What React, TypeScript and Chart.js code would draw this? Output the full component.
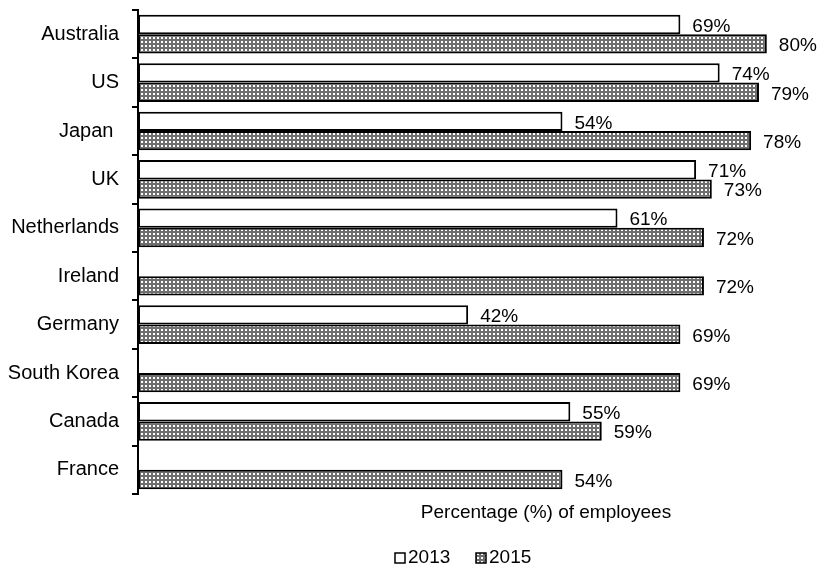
import React, { useEffect, useRef } from "react";
import { Chart, registerables } from "chart.js";

Chart.register(...registerables);

const categories = ["Australia", "US", "Japan ", "UK", "Netherlands", "Ireland", "Germany", "South Korea", "Canada", "France"];
const values2013: (number | null)[] = [69, 74, 54, 71, 61, null, 42, null, 55, null];
const values2015: number[] = [80, 79, 78, 73, 72, 72, 69, 69, 59, 54];
const seriesNames = ["2013", "2015"];
const axisTitle = "Percentage (%) of employees";

const FONT = "Arial, 'Liberation Sans', sans-serif";

function makePattern(): CanvasPattern | string {
  const c = document.createElement("canvas");
  c.width = 4;
  c.height = 4;
  const g = c.getContext("2d");
  if (!g) return "#888";
  g.fillStyle = "#6e6e6e";
  g.fillRect(0, 0, 4, 4);
  g.fillStyle = "#ffffff";
  g.fillRect(1, 1, 2, 2);
  const p = g.createPattern(c, "repeat");
  return p || "#888";
}

export default function App() {
  const ref = useRef<HTMLCanvasElement>(null);

  useEffect(() => {
    if (!ref.current) return;
    const pattern = makePattern();

    const labelsPlugin = {
      id: "valueLabels",
      afterDatasetsDraw(chart: any) {
        const ctx = chart.ctx;
        ctx.save();
        ctx.font = `19px ${FONT}`;
        ctx.fillStyle = "#000";
        ctx.textAlign = "left";
        ctx.textBaseline = "middle";
        chart.data.datasets.forEach((ds: any, di: number) => {
          const meta = chart.getDatasetMeta(di);
          meta.data.forEach((el: any, i: number) => {
            const v = ds.data[i];
            if (v === null || v === undefined) return;
            ctx.fillText(`${v}%`, el.x + 12, el.y + 2);
          });
        });
        ctx.restore();
      },
    };

    const extrasPlugin = {
      id: "extras",
      afterDraw(chart: any) {
        const ctx = chart.ctx;
        ctx.save();
        ctx.font = `19px ${FONT}`;
        ctx.fillStyle = "#000";
        ctx.textBaseline = "middle";
        ctx.textAlign = "center";
        ctx.fillText(axisTitle, 546, 513);

        // legend
        const ly = 558;
        const items = [
          { x: 395, fill: "#ffffff", text: seriesNames[0] },
          { x: 476, fill: pattern, text: seriesNames[1] },
        ];
        items.forEach((it) => {
          ctx.fillStyle = it.fill as any;
          ctx.fillRect(it.x, ly - 5, 10, 10);
          ctx.strokeStyle = "#000";
          ctx.lineWidth = 1.5;
          ctx.strokeRect(it.x, ly - 5, 10, 10);
          ctx.fillStyle = "#000";
          ctx.textAlign = "left";
          ctx.fillText(it.text, it.x + 13, ly);
        });
        ctx.restore();
      },
    };

    const chart = new Chart(ref.current, {
      type: "bar",
      data: {
        labels: categories,
        datasets: [
          {
            label: seriesNames[0],
            data: values2013 as any,
            backgroundColor: "#ffffff",
            borderColor: "#000000",
            borderWidth: 2,
            borderSkipped: false,
            categoryPercentage: 0.8,
            barPercentage: 1,
          },
          {
            label: seriesNames[1],
            data: values2015,
            backgroundColor: pattern as any,
            borderColor: "#000000",
            borderWidth: 2,
            borderSkipped: false,
            categoryPercentage: 0.8,
            barPercentage: 1,
          },
        ],
      },
      options: {
        indexAxis: "y",
        responsive: false,
        animation: false,
        devicePixelRatio: 1,
        layout: { padding: { top: 10, right: 7, bottom: 77, left: 0 } },
        plugins: {
          legend: { display: false },
          tooltip: { enabled: false },
        },
        scales: {
          x: {
            display: false,
            min: 0,
            max: 86,
          },
          y: {
            afterFit(scale: any) {
              scale.width = 138;
              scale.paddingTop = 0;
              scale.paddingBottom = 0;
            },
            grid: {
              display: true,
              drawOnChartArea: false,
              drawTicks: true,
              tickLength: 6,
              color: "#000",
              lineWidth: 2,
              offset: true,
            },
            border: { display: true, color: "#000", width: 2 },
            ticks: {
              color: "#000",
              padding: 13,
              font: { family: FONT, size: 20 },
            },
          },
        },
      },
      plugins: [labelsPlugin, extrasPlugin],
    });

    return () => chart.destroy();
  }, []);

  return (
    <div style={{ position: "absolute", left: 0, top: 0, width: 821, height: 571, background: "#fff" }}>
      <canvas ref={ref} width={821} height={571} style={{ width: 821, height: 571, display: "block" }} />
    </div>
  );
}
